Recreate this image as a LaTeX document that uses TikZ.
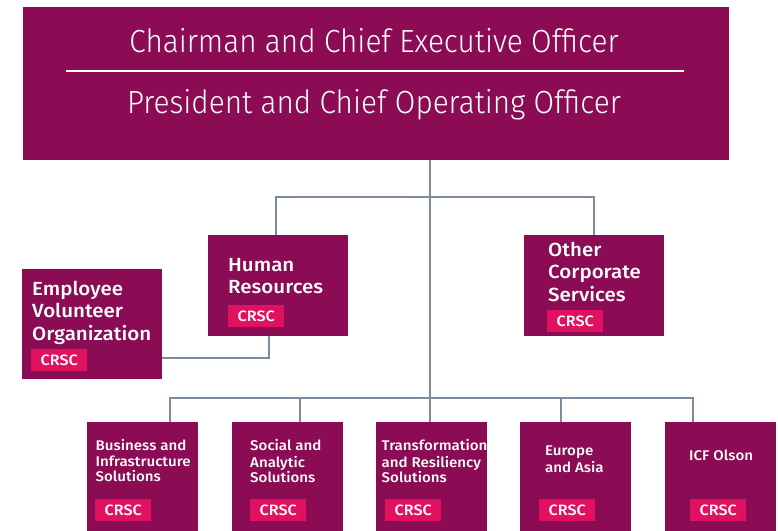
\documentclass[tikz,border=0pt]{standalone}
\usepackage{fontspec}
\setmainfont{Fira Sans}
\newfontfamily\titlefont{Fira Sans Light}[FakeStretch=0.93]
\newfontfamily\boxfont{Fira Sans Medium}[FakeStretch=1.08]
\definecolor{boxc}{HTML}{8B0B54}
\definecolor{badgec}{HTML}{E0115F}
\definecolor{linec}{HTML}{7B8D9C}
\begin{document}
\begin{tikzpicture}[x=1pt,y=-1pt,
  unitbox/.style={fill=boxc,draw=none,anchor=north west,inner sep=0pt,minimum width=#1},
  badge/.style={fill=badgec,draw=none,anchor=north west,inner sep=0pt,minimum width=56pt,minimum height=22pt,
     text=white,font=\boxfont\fontsize{15}{15}\selectfont},
  bigtext/.style={text=white,anchor=north west,align=left,inner sep=0pt,font=\boxfont\fontsize{19}{22.5}\selectfont},
  smalltext/.style={text=white,anchor=north west,align=left,inner sep=0pt,font=\boxfont\fontsize{14}{15.5}\selectfont},
  titletext/.style={text=white,anchor=base,inner sep=0pt,font=\titlefont\fontsize{32}{32}\selectfont},
  conn/.style={draw=linec,line width=1.5pt}]
\useasboundingbox (0,0) rectangle (778,530);

% junction coordinates
\coordinate (busT) at (430,197);
\coordinate (busB) at (430,398);
\coordinate (evoj) at (269,358);
\coordinate (s1) at (170,398);
\coordinate (s2) at (300,398);
\coordinate (s3) at (430,398);
\coordinate (s4) at (561,398);
\coordinate (s5) at (693,398);
\coordinate (sh) at (276,197);
\coordinate (so) at (594,197);

% top box
\node[unitbox=706pt,minimum height=153pt] (ceo) at (23,7) {};
\node[titletext] (t1) at (374,52) {Chairman and Chief Executive Officer};
\node[titletext] (t2) at (374,113) {President and Chief Operating Officer};
\coordinate (dl) at (66,71);
\coordinate (dr) at (684,71);
\draw[white,line width=1.2pt] (dl) -- (dr);

% mid boxes
\node[unitbox=140pt,minimum height=101pt] (hr) at (208,235) {};
\node[unitbox=140pt,minimum height=101pt] (ocs) at (524,235) {};
\node[unitbox=140pt,minimum height=110pt] (evo) at (22,269) {};

\node[bigtext] (hrt) at (228,271-15.75) {\strut Human\\Resources};
\node[badge] (hrb) at (228,305) {CRSC};
\node[bigtext] (ocst) at (548,256-15.75) {\strut Other\\Corporate\\Services};
\node[badge] (ocsb) at (547,310) {CRSC};
\node[bigtext] (evot) at (32,295-15.75) {\strut Employee\\Volunteer\\Organization};
\node[badge] (evob) at (31,349) {CRSC};

% bottom boxes
\foreach \n/\x in {b1/87,b2/232,b3/376,b4/520,b5/665}{
  \node[unitbox=111pt,minimum height=110pt] (\n) at (\x,422) {};
}
\node[smalltext] (b1t) at (95.5,450-10.85) {\strut Business and\\Infrastructure\\Solutions};
\node[badge] (b1b) at (95,499) {CRSC};
\node[smalltext] (b2t) at (250,450-10.85) {\strut Social and\\Analytic\\Solutions};
\node[badge] (b2b) at (250,499) {CRSC};
\node[smalltext] (b3t) at (381.5,450-10.85) {\strut Transformation\\and Resiliency\\Solutions};
\node[badge] (b3b) at (385,499) {CRSC};
\node[smalltext] (b4t) at (545,455-10.85) {\strut Europe\\and Asia};
\node[badge] (b4b) at (539,499) {CRSC};
\node[smalltext] (b5t) at (689,460-10.85) {\strut ICF Olson};
\node[badge] (b5b) at (690,499) {CRSC};

% connectors
\draw[conn] (ceo.south -| busT) -- (busB);
\draw[conn] (hr.north -| sh) -- (sh) -- (so) -- (ocs.north -| so);
\draw[conn] (evo.east |- evoj) -- (evoj) -- (hr.south -| evoj);
\draw[conn] (b1.north -| s1) -- (s1) -- (s5) -- (b5.north -| s5);
\draw[conn] (b2.north -| s2) -- (s2);
\draw[conn] (b3.north -| s3) -- (s3);
\draw[conn] (b4.north -| s4) -- (s4);
\end{tikzpicture}
\end{document}
